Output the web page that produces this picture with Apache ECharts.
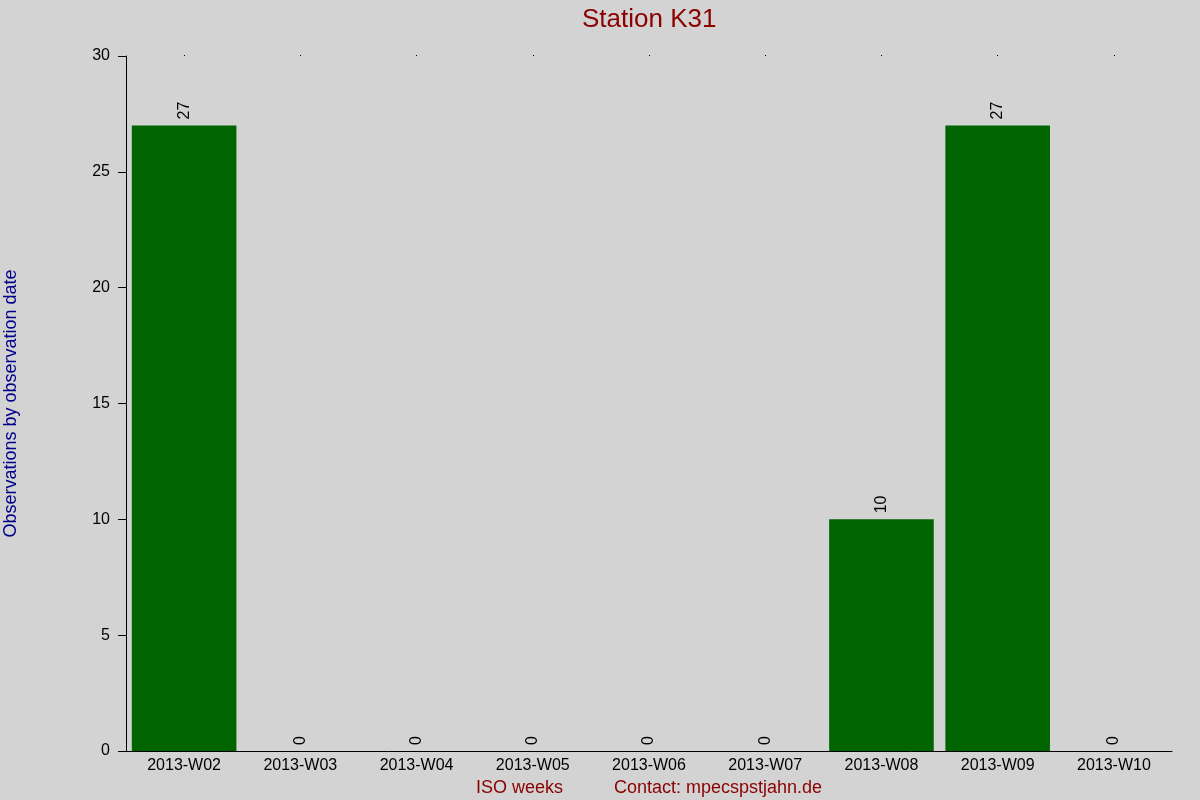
<!DOCTYPE html>
<html>
<head>
<meta charset="utf-8">
<script src="https://cdn.jsdelivr.net/npm/echarts@6/dist/echarts.min.js"></script>
<style>html,body{margin:0;padding:0;background:#d3d3d3;}#c{width:1200px;height:800px;}</style>
</head>
<body>
<div id="c"></div>
<script>
const titleText = 'Station K31';
const weeks = ['2013-W02','2013-W03','2013-W04','2013-W05','2013-W06','2013-W07','2013-W08','2013-W09','2013-W10'];
const observations = [27, 0, 0, 0, 0, 0, 10, 27, 0];
const yTicks = {min: 0, max: 30, interval: 5};
const xName1 = 'ISO weeks';
const xName2 = 'Contact: mpecspstjahn.de';
const yName = 'Observations by observation date';

const chart = echarts.init(document.getElementById('c'));
const font = 'Liberation Sans, Arial, sans-serif';
chart.setOption({
  backgroundColor: '#d3d3d3',
  animation: false,
  textStyle: {fontFamily: font},
  title: {
    text: titleText, left: 577, top: 2,
    textStyle: {color: '#8b0000', fontSize: 26, fontWeight: 'normal', fontFamily: font}
  },
  grid: {left: 126, right: 28, top: 56, bottom: 49, containLabel: false, outerBoundsMode: 'none'},
  xAxis: [{
    type: 'category', data: weeks, position: 'bottom',
    axisLine: {show: true, lineStyle: {color: '#000', width: 1}},
    axisTick: {show: false},
    axisLabel: {color: '#000', fontSize: 16, margin: 7, fontFamily: font},
    name: '{a|' + xName1 + '}{b|' + xName2 + '}',
    nameLocation: 'middle', nameGap: 27,
    nameTextStyle: {
      color: '#8b0000', fontSize: 18, fontFamily: font,
      rich: {
        a: {color: '#8b0000', fontSize: 18, fontFamily: font, padding: [0, 51, 0, 0]},
        b: {color: '#8b0000', fontSize: 18, fontFamily: font}
      }
    },
    splitLine: {show: false}
  }, {
    type: 'category', data: weeks, position: 'top',
    axisLine: {show: false},
    axisTick: {show: true, alignWithLabel: true, length: 1, lineStyle: {color: '#000', width: 1}},
    axisLabel: {show: false},
    splitLine: {show: false}
  }],
  yAxis: {
    type: 'value', min: yTicks.min, max: yTicks.max, interval: yTicks.interval,
    axisLine: {show: true, lineStyle: {color: '#000', width: 1}},
    axisTick: {show: true, length: 8, lineStyle: {color: '#000', width: 1}},
    axisLabel: {color: '#000', fontSize: 16, margin: 16, fontFamily: font},
    splitLine: {show: false},
    name: yName, nameLocation: 'middle', nameGap: 106,
    nameTextStyle: {color: '#00008b', fontSize: 18, fontFamily: font}
  },
  series: [{
    type: 'bar', data: observations, xAxisIndex: 0,
    barCategoryGap: '10%',
    itemStyle: {color: '#006400'},
    label: {
      show: true, position: 'top', rotate: 90, distance: 6,
      align: 'left', verticalAlign: 'middle',
      color: '#000', fontSize: 16, fontFamily: font
    }
  }]
});
</script>
</body>
</html>
